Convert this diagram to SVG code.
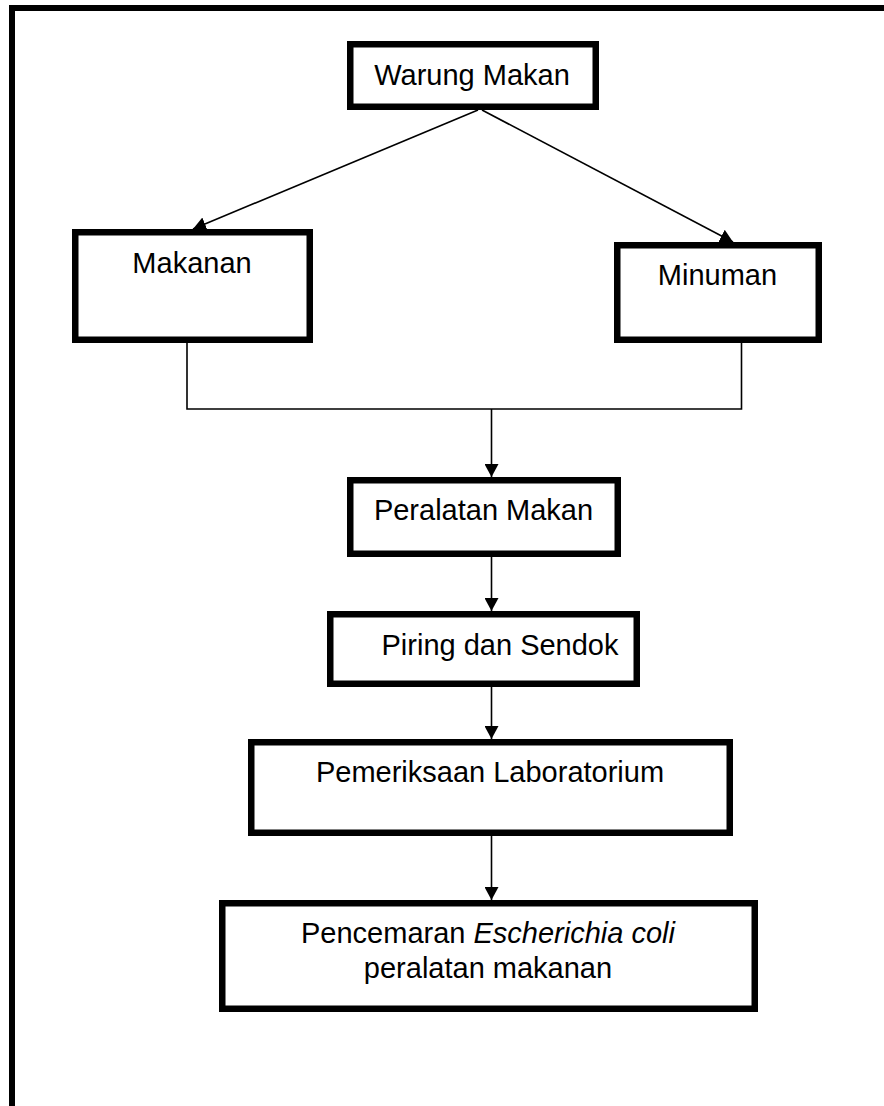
<svg xmlns="http://www.w3.org/2000/svg" width="884" height="1106" viewBox="0 0 884 1106">
<style>
.box{fill:#fff;stroke:#000;stroke-width:6.5}
.lbl{font-family:"Liberation Sans",Arial,sans-serif;font-size:29px;fill:#000;text-anchor:middle}
.con{fill:none;stroke:#000;stroke-width:1.6}
</style>
<defs>
<marker id="ah" markerUnits="userSpaceOnUse" markerWidth="14" markerHeight="14" refX="13" refY="7" orient="auto">
<path d="M0,0 L13,7 L0,14 z" fill="#000"/>
</marker>
</defs>
<rect width="884" height="1106" fill="#fff"/>
<path d="M12,1106 V8 H884" fill="none" stroke="#000" stroke-width="6"/>
<g id="connectors">
<line class="con" x1="478" y1="110" x2="193" y2="229" marker-end="url(#ah)"/>
<line class="con" x1="482" y1="110" x2="733" y2="242" marker-end="url(#ah)"/>
<polyline class="con" points="187,343 187,409 741.5,409 741.5,343"/>
<line class="con" x1="491.5" y1="409" x2="491.5" y2="477" marker-end="url(#ah)"/>
<line class="con" x1="491.5" y1="557" x2="491.5" y2="611" marker-end="url(#ah)"/>
<line class="con" x1="491.5" y1="687" x2="491.5" y2="739" marker-end="url(#ah)"/>
<line class="con" x1="491.5" y1="836" x2="491.5" y2="900" marker-end="url(#ah)"/>
</g>
<g id="warung">
<rect class="box" x="350.25" y="44.25" width="245.5" height="62.5"/>
<text class="lbl" x="472" y="85">Warung Makan</text>
</g>
<g id="makanan">
<rect class="box" x="75.25" y="232.25" width="234.5" height="107.5"/>
<text class="lbl" x="192" y="273">Makanan</text>
</g>
<g id="minuman">
<rect class="box" x="617.25" y="245.25" width="201.5" height="94.5"/>
<text class="lbl" x="717.5" y="285">Minuman</text>
</g>
<g id="peralatan">
<rect class="box" x="350.25" y="480.25" width="267.5" height="73.5"/>
<text class="lbl" x="483.5" y="520">Peralatan Makan</text>
</g>
<g id="piring">
<rect class="box" x="330.25" y="614.25" width="306.5" height="69.5"/>
<text class="lbl" x="500" y="655">Piring dan Sendok</text>
</g>
<g id="pemeriksaan">
<rect class="box" x="251.25" y="742.25" width="478.5" height="90.5"/>
<text class="lbl" x="490" y="782">Pemeriksaan Laboratorium</text>
</g>
<g id="pencemaran">
<rect class="box" x="222.25" y="903.25" width="532.5" height="105.5"/>
<text class="lbl" x="488" y="943">Pencemaran <tspan font-style="italic">Escherichia coli</tspan></text>
<text class="lbl" x="488" y="978">peralatan makanan</text>
</g>
</svg>
